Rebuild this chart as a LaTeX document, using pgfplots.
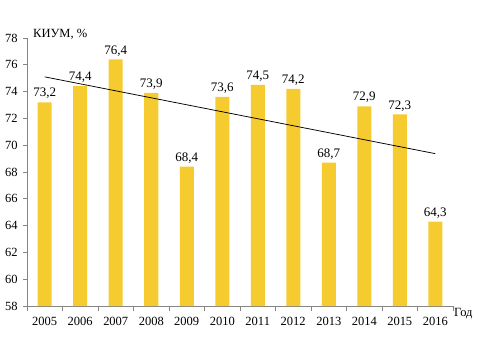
\documentclass[border=0pt]{standalone}
\usepackage{fontspec}
\setmainfont{Liberation Serif}
\usepackage{pgfplots}
\pgfplotsset{compat=1.18}
\definecolor{baryellow}{HTML}{F5CB2F}
\definecolor{axgray}{HTML}{858585}
\begin{document}
\fontsize{12.5}{14}\selectfont
\begin{tikzpicture}
\path[use as bounding box] (0,0) rectangle (480pt,360pt);
\begin{axis}[
  at={(27pt,54pt)}, anchor=south west,
  scale only axis, width=426pt, height=268pt,
  xmin=-0.5, xmax=11.5, ymin=58, ymax=78,
  axis lines*=left,
  axis line style={axgray, line width=0.8pt},
  every tick/.style={axgray, line width=0.8pt},
  xtick={0,...,11},
  xticklabels={2005,2006,2007,2008,2009,2010,2011,2012,2013,2014,2015,2016},
  major x tick style={draw=none},
  minor xtick={-0.5,0.5,...,11.5},
  minor x tick style={axgray, line width=0.8pt},
  minor tick length=5pt,
  ytick={58,60,...,78},
  tick align=outside,
  major tick length=4pt,
  x tick label style={yshift=-3pt},
  y tick label style={xshift=-1pt},
  tick label style={font=\fontsize{12.5}{14}\selectfont},
  /pgf/number format/assume math mode=true,
  clip=false,
]
\addplot[ybar, bar width=14pt, bar shift=0pt, fill=baryellow, draw=none,
  nodes near coords,
  every node near coord/.append style={font=\fontsize{13}{14}\selectfont, black, yshift=-1pt},
  nodes near coords style={/pgf/number format/.cd, fixed, fixed zerofill, precision=1, use comma, assume math mode=true},
] coordinates {
(0,73.2) (1,74.4) (2,76.4) (3,73.9) (4,68.4) (5,73.6)
(6,74.5) (7,74.2) (8,68.7) (9,72.9) (10,72.3) (11,64.3)
};
\addplot[black, line width=0.75pt, mark=none] coordinates {(0,75.1) (11,69.37)};
\node[anchor=south west, inner sep=0pt, font=\fontsize{12.5}{14}\selectfont] at ([xshift=6pt,yshift=-2pt]rel axis cs:0,1) {КИУМ, \%};
\node[anchor=west, inner sep=0pt, font=\fontsize{12.5}{14}\selectfont] at ([xshift=1pt,yshift=-8pt]rel axis cs:1,0) {Год};
\end{axis}
\end{tikzpicture}
\end{document}
